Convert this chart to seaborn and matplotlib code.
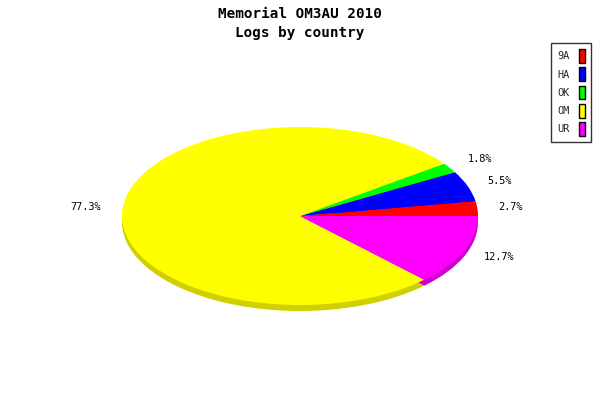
import matplotlib
matplotlib.use("Agg")
import matplotlib.pyplot as plt
import seaborn as sns
import numpy as np
from matplotlib.patches import Patch

sns.set_theme(style="white")
plt.rcParams['font.family'] = ['DejaVu Sans Mono', 'DejaVu Sans']

countries = ["9A", "HA", "OK", "OM", "UR"]
shares = [2.7, 5.5, 1.8, 77.3, 12.7]
colors = ["#ff0000", "#0000ff", "#00ff00", "#ffff00", "#ff00ff"]
shadow_colors = ["#d00000", "#0000d0", "#00d000", "#d0d000", "#d000d0"]
title_lines = ["Memorial OM3AU 2010", "Logs by country"]

W, H = 600, 400
fig = plt.figure(figsize=(6, 4), dpi=100)
fig.patch.set_facecolor("white")

cx, cy, rx, ry, depth = 300, 216, 178, 89, 6


def pie_axes(offset):
    return fig.add_axes([(cx - rx) / W, (H - cy - ry - offset) / H, 2 * rx / W, 2 * ry / H])


ax_sh = pie_axes(depth)
ax_sh.pie(shares, colors=shadow_colors, startangle=0, counterclock=True,
          wedgeprops=dict(linewidth=0))
ax_sh.set_aspect("auto")
ax_sh.set_xlim(-1, 1); ax_sh.set_ylim(-1, 1)
ax_sh.axis("off")

ax = pie_axes(0)
wedges, _ = ax.pie(shares, colors=colors, startangle=0, counterclock=True,
                   wedgeprops=dict(linewidth=0))
ax.set_aspect("auto")
ax.set_xlim(-1, 1); ax.set_ylim(-1, 1)
ax.axis("off")

for w, v in zip(wedges, shares):
    mid = np.deg2rad((w.theta1 + w.theta2) / 2)
    x = 1.12 * np.cos(mid)
    y = 1.18 * np.sin(mid)
    ax.text(x, y, f"{v:.1f}%", ha="left" if x > 0 else "right", va="center",
            fontsize=7.4, color="black", clip_on=False)

fig.text(0.5, 1 - 14 / H, title_lines[0], ha="center", va="center",
         fontsize=10.3, fontweight="bold", color="black")
fig.text(0.5, 1 - 33 / H, title_lines[1], ha="center", va="center",
         fontsize=10.3, fontweight="bold", color="black")

handles = [Patch(facecolor=c, edgecolor="black", linewidth=1) for c in colors]
leg = fig.legend(handles, countries, loc="upper right",
                 bbox_to_anchor=(591 / W, 1 - 43 / H), frameon=True,
                 fancybox=False, shadow=False, fontsize=7.4, markerfirst=False,
                 handlelength=0.6, handleheight=1.7, handletextpad=0.9,
                 labelspacing=0.42, borderpad=0.6, borderaxespad=0)
leg.get_frame().set_edgecolor("black")
leg.get_frame().set_linewidth(1)

fig.savefig("out.png", dpi=100, facecolor="white")
